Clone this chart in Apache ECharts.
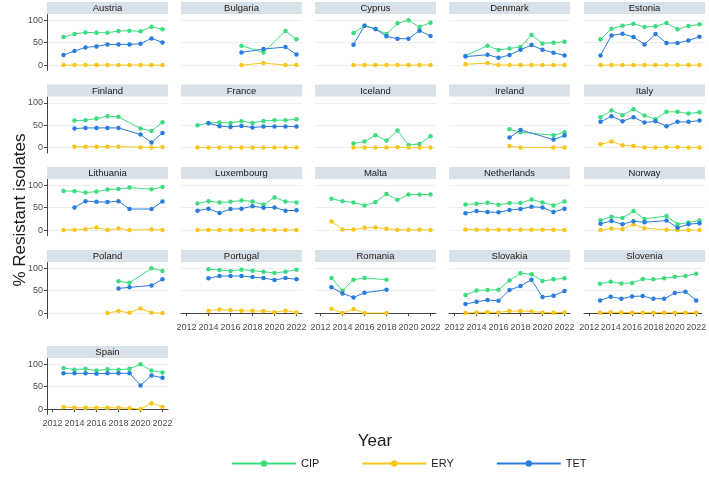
<!DOCTYPE html>
<html><head><meta charset="utf-8">
<script src="https://cdn.jsdelivr.net/npm/echarts@6/dist/echarts.min.js"></script>
<style>html,body{margin:0;padding:0;background:#fff}#c{width:709px;height:482px}</style>
</head><body><div id="c"></div>
<script>
const years = ['2012','2013','2014','2015','2016','2017','2018','2019','2020','2021','2022'];
const yTicks = [0, 50, 100];
const countries = ['Austria','Bulgaria','Cyprus','Denmark','Estonia','Finland','France','Iceland','Ireland','Italy','Lithuania','Luxembourg','Malta','Netherlands','Norway','Poland','Portugal','Romania','Slovakia','Slovenia','Spain'];
const _ = null;
const cip = [
  [_,62.7,69.4,73.1,72.4,72.4,76.1,76.9,75.4,85.8,79.9],
  [_,_,_,_,_,43.3,_,28.4,_,76.1,57.5],
  [_,_,_,71.6,88,80.6,69.4,93.3,100,85,94.8],
  [_,21,_,43.3,33.6,37.3,40.3,67.2,48.5,50,52.2],
  [_,57.5,81.3,88,92.5,85,86.6,94,79.9,87.3,91],
  [_,_,60.4,61.2,64.9,70.1,68.7,_,42.5,37.3,56.7],
  [_,50,55,56,55.2,59,55.2,59.7,61.2,61.2,63.4],
  [_,_,_,9,13.4,27.6,15.7,38.1,6,8.2,25.4],
  [_,_,_,_,_,41,34.3,_,_,27.6,34.3],
  [_,67.9,82.8,72.4,85.8,71.6,63.4,79.9,79.9,76.1,79.1],
  [_,87.5,86.8,83.8,86,90.4,91.9,94.9,_,91.2,96.3],
  [_,59.6,64.7,61.8,63.2,66.2,64,56.6,72.8,64,61.8],
  [_,69.9,64.7,61.8,55.1,62.5,80.9,67.6,79.4,79.4,79.4],
  [_,57.4,58.8,61,56.6,60.3,60.3,68.4,61.8,55.1,64],
  [_,22.1,30.1,27.2,42.6,25,_,31.6,13.2,16.9,21.3],
  [_,_,_,_,_,_,70.9,67.9,_,100,94],
  [_,_,97.8,96.3,94,97,94.8,92.5,89.6,92.5,97],
  [_,78.4,50,74.6,78.4,_,74.6,_,_,_,_],
  [_,40.3,50.7,51.5,52.2,73.1,88.8,86.6,71.6,75.4,77.6],
  [_,65.7,70.1,66.4,67.2,76.1,75.4,77.6,81.3,82.8,88.1],
  [_,92,88,90,86,89,88,90,100,86,82]
];
const ery = [
  [_,0,0,0,0,0,0,0,0,0,0],
  [_,_,_,_,_,0,_,4.5,_,0,0],
  [_,_,_,0,0,0,0,0,0,0,0],
  [_,2,_,4.5,0,0,0,0,0,0,0],
  [_,0,0,0,0,0,0,0,0,0,0],
  [_,_,2,2,2,2,2,_,1,0,1.5],
  [_,0,0,0,0,0,0,0,0,0,0],
  [_,_,_,0,0,0,0,1,0,0,0],
  [_,_,_,_,_,3.7,0,_,_,0,0],
  [_,7.5,13.4,5.2,3.7,0,0,0.7,0.7,0,0],
  [_,0,0.7,2.2,5.9,0,3.7,0,_,1.5,0],
  [_,0,0,0,0,0,0,0,0,0,0],
  [_,19.1,1.5,1.5,5.1,5.9,2.9,0.7,0.7,0.7,0],
  [_,1.5,1,1,1,1,1,1,1,1,0],
  [_,0,3.7,2.2,12.5,4.4,_,0.7,0,0,0],
  [_,_,_,_,_,0,4.5,0.7,10.4,0.7,0],
  [_,_,5.2,8.2,6.7,5.2,5.2,4.5,2.2,5.2,1.5],
  [_,9.7,0,9,0,_,0,_,_,_,_],
  [_,0,1.5,2.2,1.5,4.5,4.5,3.7,1.5,0.7,1.5],
  [_,1,2,1.5,1,1,1,1,1,1,1],
  [_,5,3,3,3,3,3,2,0,13,5]
];
const tet = [
  [_,22.4,31.3,39.6,41.8,46.3,46.3,46.3,47.8,59.7,50.7],
  [_,_,_,_,_,28.4,_,35.8,_,40.3,23.9],
  [_,_,_,45.5,88,80.6,64.2,59,59,76.9,64.9],
  [_,19,_,23.1,16.4,22.4,34.3,44.8,34.3,27.6,21.6],
  [_,21.6,66.4,70.1,62.7,46.3,69.4,49.3,49.3,55.2,63.4],
  [_,_,42.5,44,44,44,44,_,29.1,11.2,32.8],
  [_,_,54.5,47.8,46.3,48.5,44.8,47,47,47,47],
  [_,_,_,_,_,_,_,_,_,_,_],
  [_,_,_,_,_,22.4,39.6,_,_,17.9,26.9],
  [_,57.5,70.1,59,67.9,56,59,47.8,57.5,57.5,60.4],
  [_,_,50.7,64.7,63.2,62.5,64.7,47.1,_,47.1,64],
  [_,43.4,47.8,38.2,47,47.8,53.5,50,50.7,43.4,44.1],
  [_,_,_,_,_,_,_,_,_,_,_],
  [_,37.5,42.6,40.4,39.7,44.9,47.1,52.2,50.7,40.4,47.8],
  [_,14,20.6,13.2,19.9,17.6,_,21.3,5.1,13.2,15.4],
  [_,_,_,_,_,_,55.2,57.5,_,61.9,75.4],
  [_,_,77.6,82.8,82.8,82.8,80.6,78.4,73.9,78.4,75.4],
  [_,57.5,44,35.1,45.5,_,52.2,_,_,_,_],
  [_,20.1,25.4,29.1,27.6,51.5,60.4,74.6,35.8,38.8,49.3],
  [_,28.4,36.6,32.1,37.3,38.1,32.1,32.1,44.8,47.8,28.4],
  [_,80,80,80,79,80,80,80,53,75,70]
];
const seriesNames = ['CIP','ERY','TET'];
const seriesColors = ['#3EDC81','#F6C61C','#2A7CDD'];

const FONT = 'Liberation Sans, Arial, sans-serif';
const colLefts = [47, 181, 315, 449, 584];
const stripTops = [2, 84.5, 167, 250, 346];
const panelW = 121, stripH = 12, plotH = 56;

const chart = echarts.init(document.getElementById('c'), null, {renderer: 'canvas'});
const grids = [], xAxes = [], yAxes = [], series = [], graphics = [];
const data3 = [cip, ery, tet];
countries.forEach((name, i) => {
  const r = Math.floor(i / 5), c = i % 5;
  const left = colLefts[c], top = stripTops[r];
  const bottomAxis = (i >= 16);
  const leftAxis = (c === 0);
  grids.push({left: left, top: top + stripH + 0.5, width: panelW, height: plotH, containLabel: false});
  xAxes.push({
    type: 'category', gridIndex: i, data: years, boundaryGap: true,
    axisLine: {show: bottomAxis, lineStyle: {color: '#444', width: 1}},
    axisTick: {show: bottomAxis, interval: 1, alignWithLabel: true, length: 3, lineStyle: {color: '#444'}},
    axisLabel: {show: bottomAxis, interval: 1, fontSize: 9, color: '#4d4d4d', fontFamily: FONT, margin: 5},
    splitLine: {show: false}
  });
  yAxes.push({
    type: 'value', gridIndex: i, min: -12, max: 113,
    axisLine: {show: leftAxis, onZero: false, lineStyle: {color: '#444', width: 1}},
    axisTick: {show: leftAxis, customValues: yTicks, length: 3, lineStyle: {color: '#444'}},
    axisLabel: {show: leftAxis, customValues: yTicks, fontSize: 9, color: '#4d4d4d', fontFamily: FONT, margin: 4},
    splitLine: {show: true, lineStyle: {color: '#eeeeee', width: 1}}
  });
  graphics.push({type: 'rect', shape: {x: left, y: top, width: panelW, height: stripH}, style: {fill: '#d9e1e8'}, silent: true});
  graphics.push({type: 'text', x: left + panelW / 2, y: top + stripH / 2 + 0.5, style: {text: name, fill: '#1a1a1a', font: '9.5px ' + FONT, textAlign: 'center', textVerticalAlign: 'middle'}, silent: true});
  data3.forEach((arr, k) => {
    const d = arr[i];
    if (d.every(v => v === null)) return;
    series.push({
      name: seriesNames[k], type: 'line', xAxisIndex: i, yAxisIndex: i, data: d,
      connectNulls: true, symbol: 'circle', symbolSize: 4.5, showSymbol: true,
      itemStyle: {color: seriesColors[k]}, lineStyle: {color: seriesColors[k], width: 1},
      emphasis: {disabled: true}, z: 2 + k
    });
  });
});
graphics.push({type: 'text', x: 375, y: 441, style: {text: 'Year', fill: '#1a1a1a', font: '17px ' + FONT, textAlign: 'center', textVerticalAlign: 'middle'}, silent: true});
graphics.push({type: 'text', x: 20, y: 210, rotation: Math.PI / 2, style: {text: '% Resistant isolates', fill: '#1a1a1a', font: '17px ' + FONT, textAlign: 'center', textVerticalAlign: 'middle'}, silent: true});

chart.setOption({
  animation: false,
  backgroundColor: '#ffffff',
  grid: grids, xAxis: xAxes, yAxis: yAxes, series: series,
  legend: {data: seriesNames, left: 226, top: 453, itemWidth: 64, itemHeight: 8, itemGap: 42,
    textStyle: {fontSize: 11, color: '#1a1a1a', fontFamily: FONT}, selectedMode: false},
  graphic: graphics
});
</script></body></html>
